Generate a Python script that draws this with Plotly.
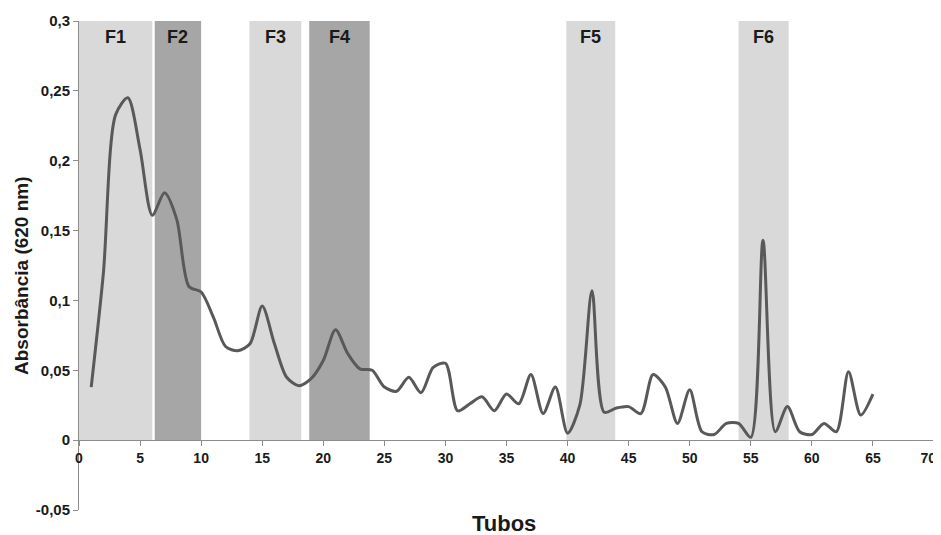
import plotly.graph_objects as go

tubes = list(range(1, 66))
absorbance = [
    0.038, 0.120, 0.233, 0.245, 0.208, 0.161, 0.177, 0.158, 0.110, 0.106,
    0.088, 0.067, 0.064, 0.069, 0.096, 0.069, 0.045, 0.039, 0.044, 0.057,
    0.079, 0.062, 0.051, 0.050, 0.038, 0.035, 0.045, 0.034, 0.052, 0.055,
    0.021, 0.026, 0.031, 0.021, 0.033, 0.026, 0.047, 0.019, 0.038, 0.005,
    0.025, 0.107, 0.020, 0.023, 0.024, 0.019, 0.047, 0.038, 0.012, 0.036,
    0.006, 0.004, 0.012, 0.012, 0.002, 0.143, 0.006, 0.024, 0.006, 0.004,
    0.012, 0.006, 0.049, 0.018, 0.033,
]

fraction_names = ["F1", "F2", "F3", "F4", "F5", "F6"]
fraction_start = [0.0, 6.2, 13.95, 18.85, 39.9, 54.0]
fraction_end = [6.0, 10.0, 18.2, 23.8, 43.9, 58.1]
fraction_shade = ["#d9d9d9", "#a6a6a6", "#d9d9d9", "#a6a6a6", "#d9d9d9", "#d9d9d9"]

y_ticks = [-0.05, 0, 0.05, 0.1, 0.15, 0.2, 0.25, 0.3]
y_ticklabels = ["-0,05", "0", "0,05", "0,1", "0,15", "0,2", "0,25", "0,3"]
x_ticks = list(range(0, 75, 5))
x_ticklabels = [str(v) for v in x_ticks]

FONT = "Liberation Sans, Arial"
TXT = "#1a1a1a"

fig = go.Figure()

for name, x0, x1, c in zip(fraction_names, fraction_start, fraction_end, fraction_shade):
    fig.add_shape(type="rect", xref="x", yref="y", x0=x0, x1=x1, y0=0, y1=0.3,
                  fillcolor=c, line_width=0, layer="below")
    fig.add_annotation(x=(x0 + x1) / 2, y=0.2887, xref="x", yref="y", text="<b>%s</b>" % name,
                       showarrow=False, yanchor="middle",
                       font=dict(family=FONT, size=18, color=TXT))

fig.add_trace(go.Scatter(
    x=tubes, y=absorbance, mode="lines",
    line=dict(color="#595959", width=3, shape="spline", smoothing=0.8),
    showlegend=False, hoverinfo="skip",
))

# last label nudged left (kept inside the frame as in the reference)
x_text = [f"<b>{t}</b>" for t in x_ticklabels]
x_text[-1] = f"<b>{x_ticklabels[-1]}</b>&nbsp;&nbsp;&nbsp;"

fig.update_layout(
    width=941, height=527,
    margin=dict(l=71, r=15, t=13, b=25, autoexpand=False),
    paper_bgcolor="white", plot_bgcolor="white",
    font=dict(family=FONT, color=TXT),
    xaxis=dict(range=[0, 70], tickvals=x_ticks, ticktext=x_text,
               showgrid=False, zeroline=False, showline=True, linecolor="#8c8c8c", linewidth=1,
               ticks="outside", ticklen=5, tickcolor="#8c8c8c",
               anchor="free", position=0.05 / 0.35, automargin=False,
               ticklabeloverflow="allow",
               tickfont=dict(size=14, family=FONT, color=TXT)),
    yaxis=dict(range=[-0.05, 0.3], tickvals=y_ticks, ticktext=[f"<b>{t}</b>" for t in y_ticklabels],
               showgrid=False, zeroline=False, showline=True, linecolor="#8c8c8c", linewidth=1,
               ticks="outside", ticklen=5, tickcolor="#8c8c8c", automargin=False,
               tickfont=dict(size=15, family=FONT, color=TXT)),
)

fig.add_annotation(xref="paper", yref="paper", x=0.497, y=0.002,
                   text="<b>Tubos</b>", showarrow=False, yanchor="top", xanchor="center",
                   font=dict(size=22, family=FONT, color=TXT))
fig.add_annotation(xref="paper", yref="paper", x=-0.0667, y=0.4806,
                   text="<b>Absorbância (620 nm)</b>", showarrow=False, textangle=-90,
                   xanchor="center", yanchor="middle",
                   font=dict(size=19, family=FONT, color=TXT))

fig.write_html("out.html")
